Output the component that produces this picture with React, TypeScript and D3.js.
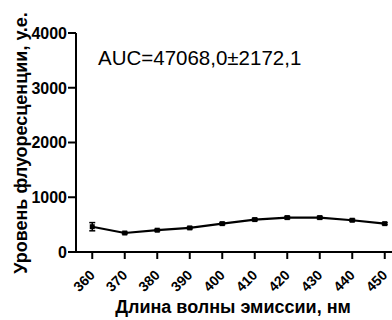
import React from "react";
import * as d3 from "d3";

const wavelengths = [360, 370, 380, 390, 400, 410, 420, 430, 440, 450];
const meanValues = [462, 347, 398, 440, 518, 592, 628, 628, 580, 518];
const errorValues = [75, 15, 15, 18, 20, 20, 22, 22, 20, 18];
const yTicks = [0, 1000, 2000, 3000, 4000];
const xTickLabels = ["360", "370", "380", "390", "400", "410", "420", "430", "440", "450"];
const annotation = "AUC=47068,0±2172,1";
const xTitle = "Длина волны эмиссии, нм";
const yTitle = "Уровень флуоресценции, у.е.";

const W = 392;
const H = 320;
const FONT = "Arial, 'Liberation Sans', Helvetica, sans-serif";

export default function App() {
  const x = d3.scaleLinear().domain([355, 457]).range([76, 407.5]);
  const y = d3.scaleLinear().domain([0, 4000]).range([252, 33]);
  const pts = wavelengths.map((w, i) => ({ w, v: meanValues[i], e: errorValues[i] }));
  const line = d3
    .line<{ w: number; v: number }>()
    .x((d) => x(d.w))
    .y((d) => y(d.v));

  return (
    <svg
      width={W}
      height={H}
      style={{ position: "absolute", left: 0, top: 0, background: "#fff" }}
      fontFamily={FONT}
    >
      {/* y axis */}
      <line x1={76} x2={76} y1={y(4000)} y2={y(0) + 1} stroke="#000" strokeWidth={2} />
      {yTicks.map((t) => (
        <g key={t}>
          <line x1={68} x2={76} y1={y(t)} y2={y(t)} stroke="#000" strokeWidth={2} />
          <text
            x={67}
            y={y(t)}
            dy="0.36em"
            textAnchor="end"
            fontSize={16}
            fontWeight="bold"
          >
            {t}
          </text>
        </g>
      ))}
      {/* x axis */}
      <line x1={75} x2={W} y1={252} y2={252} stroke="#000" strokeWidth={2} />
      {wavelengths.map((w, i) => (
        <g key={w}>
          <line x1={x(w)} x2={x(w)} y1={252} y2={259} stroke="#000" strokeWidth={2} />
          <text
            transform={`translate(${x(w) + 3.5},${276}) rotate(-45)`}
            textAnchor="end"
            fontSize={14}
            fontWeight="bold"
          >
            {xTickLabels[i]}
          </text>
        </g>
      ))}
      {/* data */}
      <path d={line(pts) || ""} fill="none" stroke="#000" strokeWidth={2.2} />
      {pts.map((p) => (
        <g key={p.w}>
          <line x1={x(p.w)} x2={x(p.w)} y1={y(p.v + p.e)} y2={y(p.v - p.e)} stroke="#000" strokeWidth={1.5} />
          <line x1={x(p.w) - 3} x2={x(p.w) + 3} y1={y(p.v + p.e)} y2={y(p.v + p.e)} stroke="#000" strokeWidth={1.5} />
          <line x1={x(p.w) - 3} x2={x(p.w) + 3} y1={y(p.v - p.e)} y2={y(p.v - p.e)} stroke="#000" strokeWidth={1.5} />
          <rect x={x(p.w) - 2.5} y={y(p.v) - 2.5} width={5} height={5} fill="#000" />
        </g>
      ))}
      {/* annotation */}
      <text x={98} y={65} fontSize={20.5}>
        {annotation}
      </text>
      {/* titles */}
      <text x={233} y={313} textAnchor="middle" fontSize={18} fontWeight="bold">
        {xTitle}
      </text>
      <text
        transform={`translate(27,${143}) rotate(-90)`}
        textAnchor="middle"
        fontSize={18}
        fontWeight="bold"
      >
        {yTitle}
      </text>
    </svg>
  );
}
